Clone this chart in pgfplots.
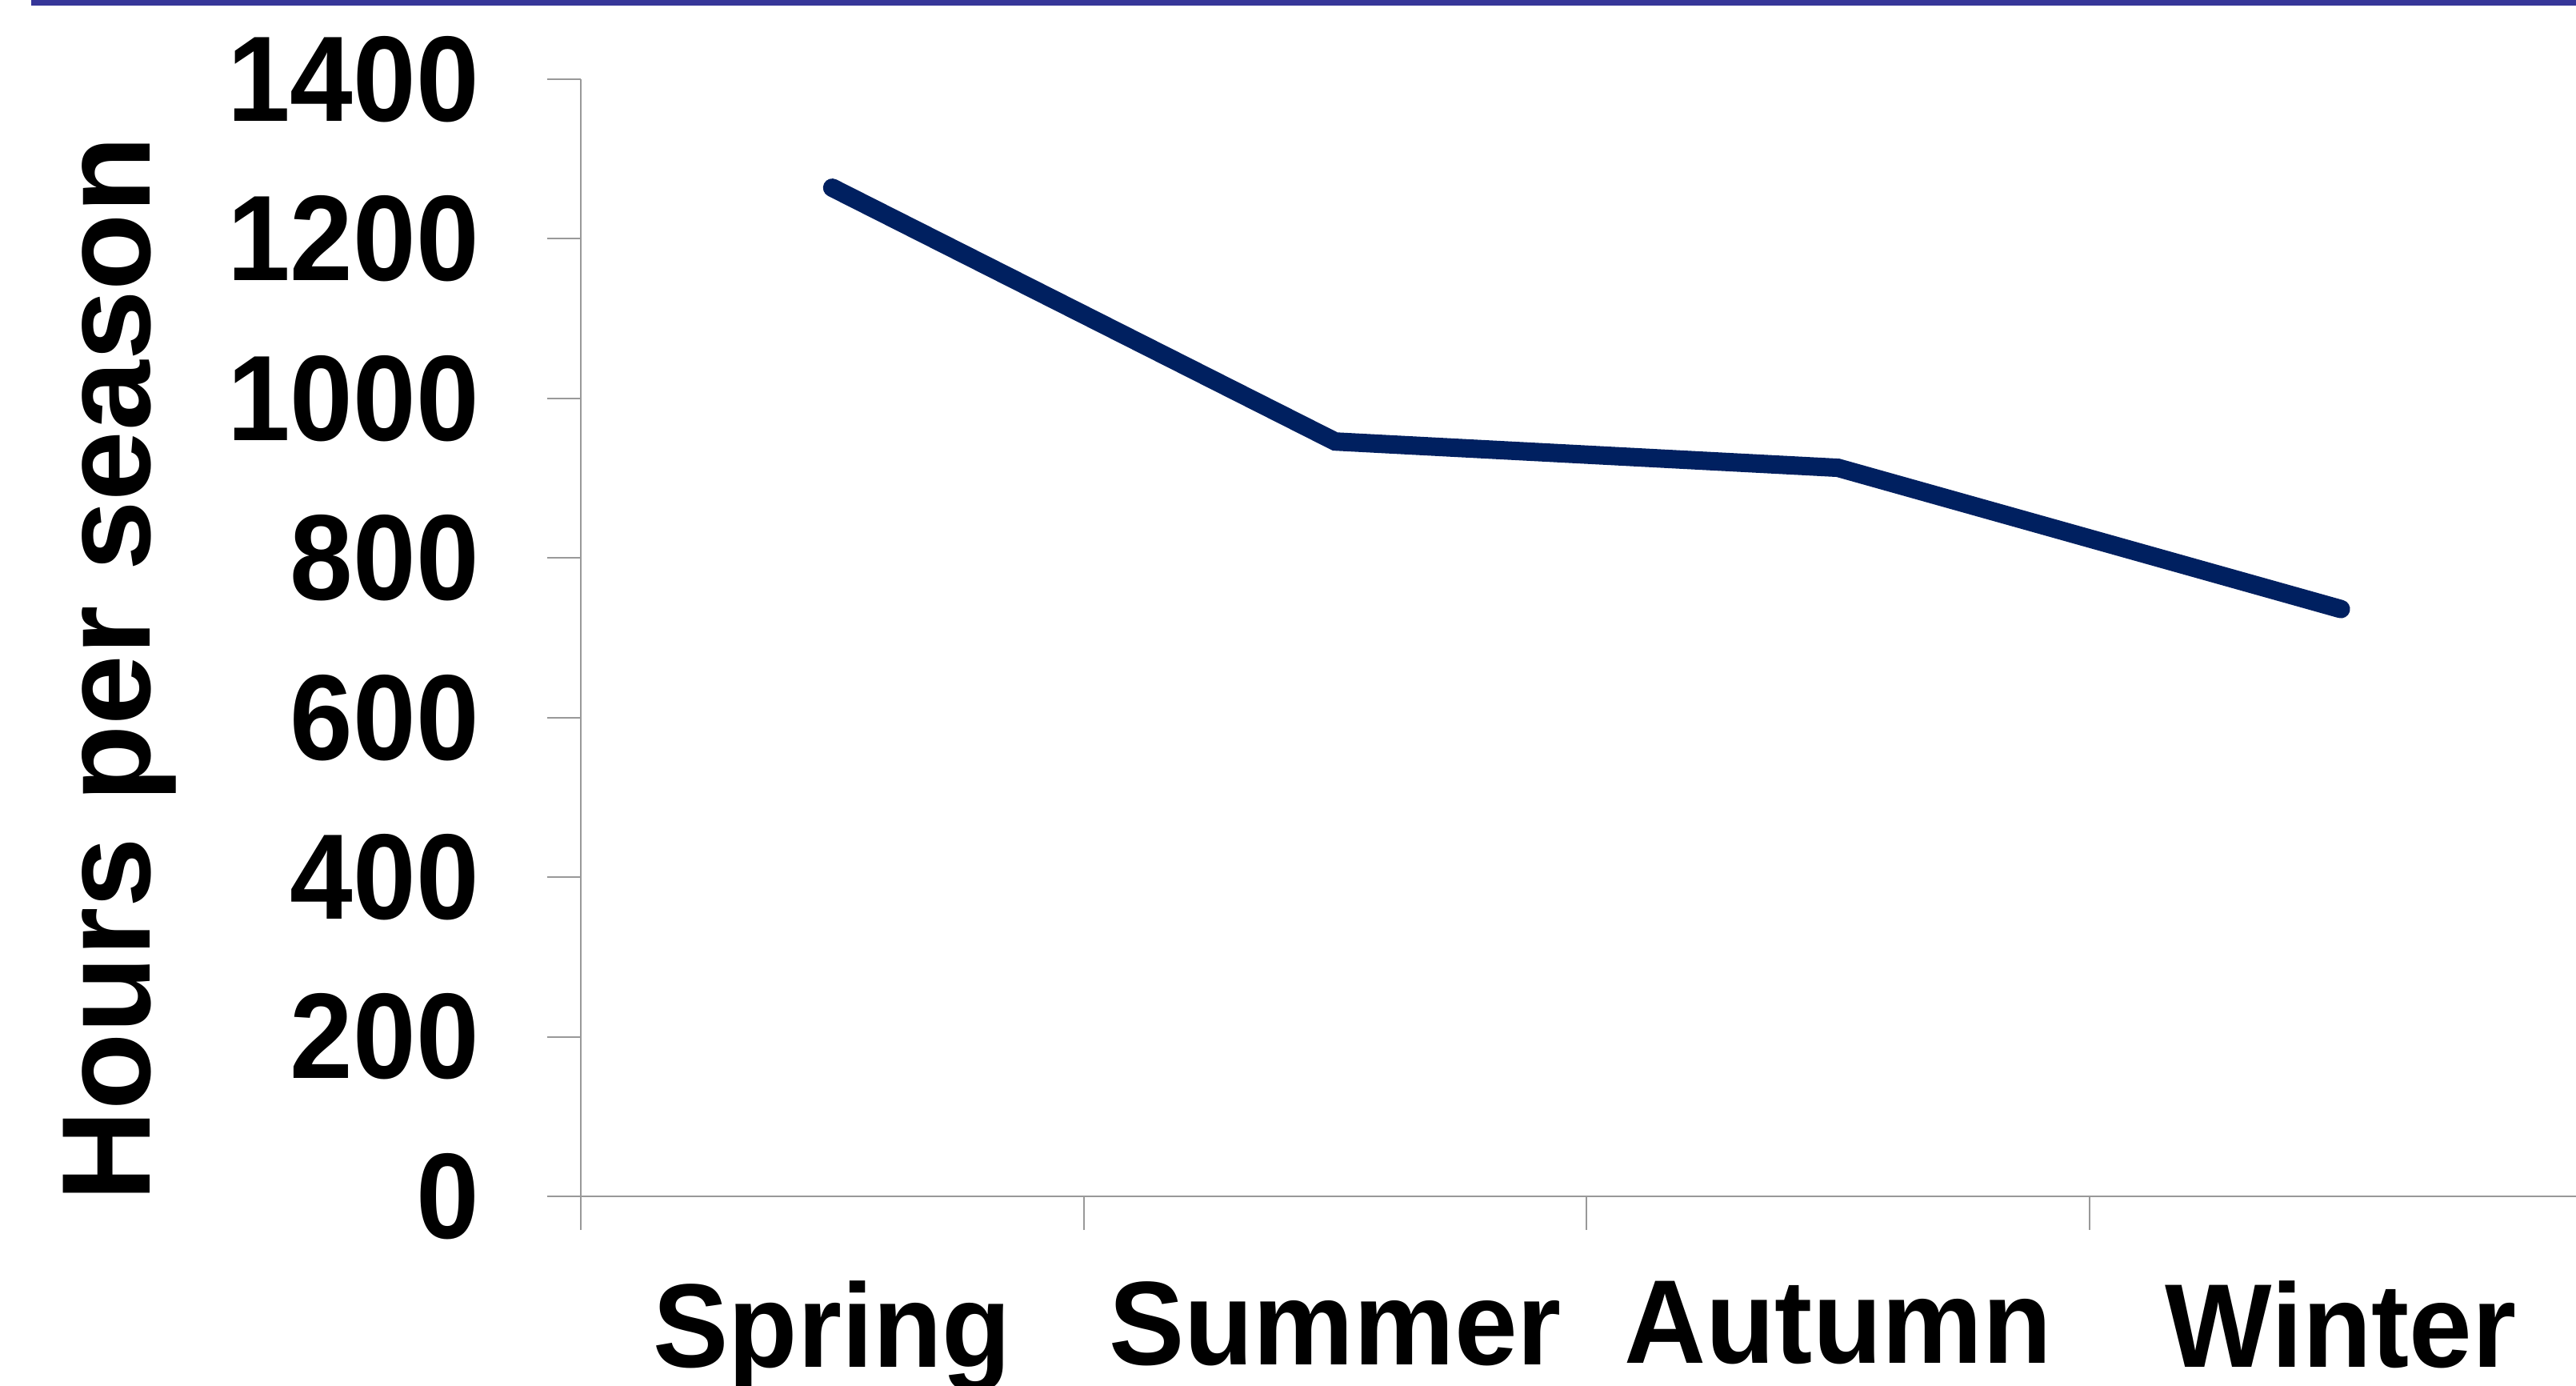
\documentclass[border=0pt]{standalone}
\usepackage{fontspec}
\setmainfont{Liberation Sans}
\newfontfamily\tickfont{Liberation Sans}[FakeStretch=0.93]
\newfontfamily\catfont{Liberation Sans}[FakeStretch=0.95]
\usepackage{pgfplots}
\pgfplotsset{compat=1.18}
\definecolor{axisgray}{RGB}{153,153,153}
\definecolor{linenavy}{RGB}{0,32,96}
\definecolor{topblue}{RGB}{54,54,153}
\begin{document}
\begin{tikzpicture}
\clip (-181.5pt,-59.25pt) rectangle (623.5pt,373.75pt);
\fill[topblue] (-171.75pt,372pt) rectangle (630pt,380pt);
\begin{axis}[
  at={(0pt,0pt)}, anchor=south west,
  width=628.6pt, height=349pt, scale only axis,
  xmin=0, xmax=4, ymin=0, ymax=1400,
  axis lines=left,
  axis line style={axisgray, line width=0.5pt, -},
  tick align=outside,
  major tick length=10.5pt,
  tick style={axisgray, line width=0.5pt},
  xtick={0,1,2,3,4},
  x tick label as interval,
  xticklabels={Spring,Summer,Autumn,Winter},
  ytick={0,200,...,1400},
  /pgf/number format/assume math mode=true,
  /pgf/number format/set thousands separator={},
  yticklabel style={font=\tickfont\bfseries\fontsize{38pt}{40pt}\selectfont, anchor=east, xshift=-17.75pt},
  xticklabel style={font=\catfont\bfseries\fontsize{37.2pt}{40pt}\selectfont, yshift=-12.5pt},
  ylabel={Hours per season},
  every axis y label/.style={at={(rel axis cs:-0.214,0.472)}, rotate=90, anchor=base,
    font=\bfseries\fontsize{39.4pt}{44pt}\selectfont},
  clip=false,
]
\addplot[linenavy, line width=5.75pt, line cap=round, line join=miter, mark=none]
  coordinates {(0.5,1264) (1.5,946) (2.5,913) (3.5,736)};
\end{axis}
\end{tikzpicture}
\end{document}
